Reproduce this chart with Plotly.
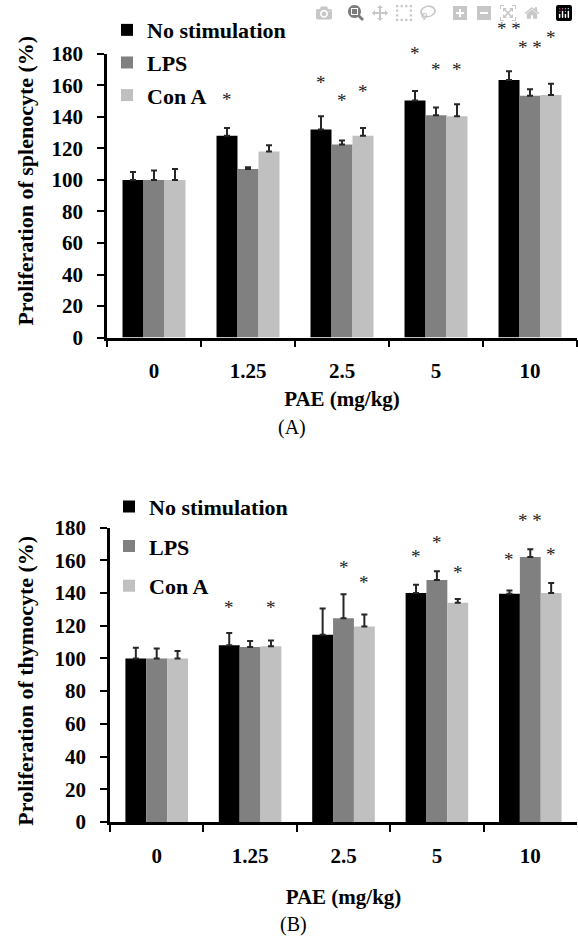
import plotly.graph_objects as go
from plotly.subplots import make_subplots

# ---------------- data ----------------
doses = ["0", "1.25", "2.5", "5", "10"]
series_names = ["No stimulation", "LPS", "Con A"]
series_colors = ["#000000", "#808080", "#c0c0c0"]

# (A) splenocyte
spl_none = [100, 128, 132, 150.5, 163.5]
spl_lps = [100, 107, 122.5, 141, 153.5]
spl_cona = [100, 118, 128, 140.5, 154]
spl_none_err = [5, 5, 8.5, 6, 5.5]
spl_lps_err = [6, 1, 2.5, 5, 4]
spl_cona_err = [7, 4, 5, 7.5, 7]
spl_none_sig = ["", "*", "*", "*", "* *"]
spl_lps_sig = ["", "", "*", "*", "* *"]
spl_cona_sig = ["", "", "*", "*", "*"]
spl_none_sig_y = [None, 151.5, 162.8, 181, 197]
spl_lps_sig_y = [None, None, 151.3, 170.5, 185]
spl_cona_sig_y = [None, None, 156.5, 171, 191]

# (B) thymocyte
thy_none = [100, 108, 114.5, 140, 139.5]
thy_lps = [100, 107, 124.5, 148, 162]
thy_cona = [100, 107.5, 119.5, 134, 140]
thy_none_err = [6.5, 7.5, 16, 5, 2]
thy_lps_err = [6, 3.7, 14.7, 5.3, 4.8]
thy_cona_err = [4.5, 3.5, 7.3, 2.4, 6.2]
thy_none_sig = ["", "*", "", "*", "*"]
thy_lps_sig = ["", "", "*", "*", "* *"]
thy_cona_sig = ["", "*", "*", "*", "*"]
thy_none_sig_y = [None, 132, None, 162.7, 161]
thy_lps_sig_y = [None, None, 156.3, 171.7, 185]
thy_cona_sig_y = [None, 132, 147.2, 153.3, 164]

y_range = [0, 180]

# ---------------- figure ----------------
W, H = 578, 948
FONT = "Liberation Serif"
BARGAP = 0.33
bar_w = (1 - BARGAP) / 3

fig = make_subplots(rows=2, cols=1)

panels = [
    dict(row=1, vals=[spl_none, spl_lps, spl_cona],
         errs=[spl_none_err, spl_lps_err, spl_cona_err],
         sig=[spl_none_sig, spl_lps_sig, spl_cona_sig],
         sigy=[spl_none_sig_y, spl_lps_sig_y, spl_cona_sig_y],
         legend="legend", grp="A"),
    dict(row=2, vals=[thy_none, thy_lps, thy_cona],
         errs=[thy_none_err, thy_lps_err, thy_cona_err],
         sig=[thy_none_sig, thy_lps_sig, thy_cona_sig],
         sigy=[thy_none_sig_y, thy_lps_sig_y, thy_cona_sig_y],
         legend="legend2", grp="B"),
]

annotations = []
for p in panels:
    xref = "x" if p["row"] == 1 else "x2"
    yref = "y domain" if p["row"] == 1 else "y2 domain"
    for si in range(3):
        fig.add_trace(go.Bar(
            x=doses, y=p["vals"][si], name=series_names[si],
            marker=dict(color=series_colors[si], line=dict(width=0)),
            error_y=dict(type="data", symmetric=False, array=p["errs"][si],
                         arrayminus=[0] * len(doses), color="#262626",
                         thickness=2, width=3),
            legend=p["legend"], legendgroup=p["grp"] + str(si),
        ), row=p["row"], col=1)
        for ci, (lab, yv) in enumerate(zip(p["sig"][si], p["sigy"][si])):
            if lab and yv is not None:
                annotations.append(dict(
                    x=ci + (si - 1) * bar_w, xref=xref,
                    y=(yv - y_range[0]) / (y_range[1] - y_range[0]), yref=yref,
                    text=lab, showarrow=False, yshift=-1,
                    xanchor="center", yanchor="middle",
                    font=dict(family=FONT, size=19, color="#1a1a1a")))

axis_font = dict(family=FONT, size=21, color="black", weight="bold")
legend_font = dict(family=FONT, size=22, color="black", weight="bold")

def px_x(v):
    return v / W

def px_y(v):
    return 1 - v / H

fig.update_layout(
    width=W, height=H,
    margin=dict(l=0, r=0, t=0, b=0),
    paper_bgcolor="white", plot_bgcolor="white",
    bargap=BARGAP, bargroupgap=0, barmode="group",
    showlegend=True,
    font=dict(family=FONT, color="black"),
    xaxis=dict(domain=[px_x(107), px_x(577)], anchor="y"),
    yaxis=dict(domain=[px_y(334), px_y(43)], anchor="x"),
    xaxis2=dict(domain=[px_x(110), px_x(577)], anchor="y2"),
    yaxis2=dict(domain=[px_y(831), px_y(529)], anchor="x2"),
    legend=dict(x=px_x(107), y=px_y(-3), xanchor="left", yanchor="top",
                bgcolor="rgba(0,0,0,0)", tracegroupgap=1, font=legend_font),
    legend2=dict(x=px_x(109), y=px_y(486), xanchor="left", yanchor="top",
                 bgcolor="rgba(0,0,0,0)", tracegroupgap=8, font=legend_font),
)

for r, so in ((1, 9), (2, 23)):
    fig.update_xaxes(type="category", showline=True, linecolor="black", linewidth=2.5,
                     ticks="outside", tickson="boundaries", ticklen=7, tickwidth=2,
                     tickcolor="black", tickfont=axis_font, showgrid=False,
                     ticklabelstandoff=13,
                     title=dict(text="PAE (mg/kg)", font=axis_font, standoff=so),
                     row=r, col=1)
    fig.update_yaxes(range=y_range, dtick=20, showline=True, linecolor="black",
                     linewidth=2.5, ticks="outside", ticklen=7, tickwidth=2,
                     tickcolor="black", tickfont=axis_font, showgrid=False,
                     zeroline=False, ticklabelstandoff=10, row=r, col=1)

annotations += [
    dict(x=px_x(26), y=px_y(173), xref="paper", yref="paper", showarrow=False,
         xanchor="center", yanchor="middle",
         text="Proliferation of splenocyte (%)", textangle=-90,
         font=dict(family=FONT, size=22, color="black", weight="bold")),
    dict(x=px_x(26), y=px_y(686), xref="paper", yref="paper", showarrow=False,
         xanchor="center", yanchor="middle",
         text="Proliferation of thymocyte (%)", textangle=-90,
         font=dict(family=FONT, size=22, color="black", weight="bold")),
    dict(x=px_x(292), y=px_y(426), xref="paper", yref="paper", showarrow=False,
         xanchor="center", yanchor="middle",
         text="(A)", font=dict(family=FONT, size=20, color="black")),
    dict(x=px_x(293), y=px_y(936), xref="paper", yref="paper", showarrow=False,
         xanchor="center", yanchor="middle",
         text="(B)", font=dict(family=FONT, size=20, color="black")),
]
fig.update_layout(annotations=annotations)

fig.write_html("out.html", post_script="document.body.style.margin='0';")
